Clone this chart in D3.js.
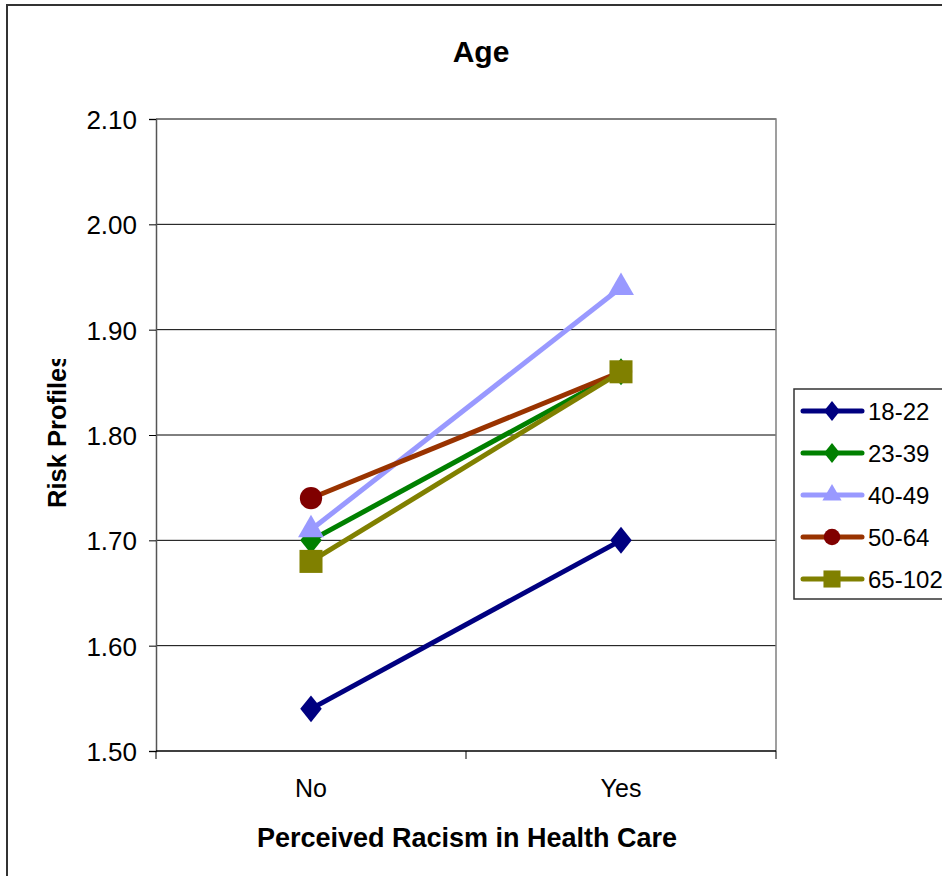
<!DOCTYPE html>
<html>
<head>
<meta charset="utf-8">
<script src="https://cdnjs.cloudflare.com/ajax/libs/d3/7.8.5/d3.min.js"></script>
<style>
  html, body { margin: 0; padding: 0; background: #fff; }
  svg { display: block; font-family: "Liberation Sans", Arial, sans-serif; }
</style>
</head>
<body>
<svg id="chart" width="942" height="876"></svg>
<script>
// Categories on the x axis
const categories = ["No", "Yes"];
// Age groups (series) and their mean risk profile scores
const seriesNames = ["18-22", "23-39", "40-49", "50-64", "65-102"];
const values1822 = [1.54, 1.70];
const values2339 = [1.70, 1.86];
const values4049 = [1.71, 1.94];
const values5064 = [1.74, 1.86];
const values65102 = [1.68, 1.86];
// Y axis ticks
const yTicks = [1.50, 1.60, 1.70, 1.80, 1.90, 2.00, 2.10];

// Diamond drawn as a slightly tall rhombus
const rhombus = {
  draw(ctx, size) {
    const h = Math.sqrt(size / 1.6);
    const w = h * 0.8;
    ctx.moveTo(0, -h); ctx.lineTo(w, 0); ctx.lineTo(0, h); ctx.lineTo(-w, 0); ctx.closePath();
  }
};

const seriesStyle = [
  { line: "#000080", fill: "#000080", symbol: rhombus, size: 290 },
  { line: "#008000", fill: "#008000", symbol: rhombus, size: 290 },
  { line: "#9999FF", fill: "#9999FF", symbol: d3.symbolTriangle, size: 290 },
  { line: "#993300", fill: "#800000", symbol: d3.symbolCircle, size: 390 },
  { line: "#808000", fill: "#808000", symbol: d3.symbolSquare, size: 530 }
];
const seriesValues = [values1822, values2339, values4049, values5064, values65102];
const series = seriesNames.map((name, i) => ({ name, values: seriesValues[i], style: seriesStyle[i] }));

const svg = d3.select("#chart");
const FONT = "'Liberation Sans', Arial, sans-serif";

// Outer chart frame (runs off the right and bottom edge)
svg.append("rect")
  .attr("x", 7).attr("y", 5).attr("width", 1000).attr("height", 1000)
  .attr("fill", "#fff").attr("stroke", "#333").attr("stroke-width", 2);

const plot = { left: 156, top: 119, right: 776, bottom: 751 };

const x = d3.scaleBand().domain(categories).range([plot.left, plot.right]);
const y = d3.scaleLinear().domain([1.5, 2.1]).range([plot.bottom, plot.top]);

// Horizontal gridlines
svg.append("g")
  .selectAll("line")
  .data(yTicks.slice(1))
  .join("line")
  .attr("x1", plot.left).attr("x2", plot.right)
  .attr("y1", d => y(d)).attr("y2", d => y(d))
  .attr("stroke", "#000").attr("stroke-width", 1);

// Plot area border (right side and top)
svg.append("path")
  .attr("d", `M${plot.left},${plot.top}H${plot.right}V${plot.bottom}`)
  .attr("fill", "none").attr("stroke", "#808080").attr("stroke-width", 1.5);

// Y axis
const yAxis = svg.append("g")
  .attr("transform", `translate(${plot.left},0)`)
  .call(d3.axisLeft(y).tickValues(yTicks).tickFormat(d3.format(".2f")).tickSize(7).tickPadding(12));
yAxis.attr("font-size", 26).attr("font-family", FONT);
yAxis.select(".domain").attr("stroke", "#555").attr("stroke-width", 1.5);
yAxis.selectAll(".tick line").attr("stroke", "#000");
yAxis.selectAll(".tick text").attr("fill", "#000").attr("dy", "0.36em");

// X axis with tick marks between categories
const xAxis = svg.append("g")
  .attr("transform", `translate(0,${plot.bottom})`);
xAxis.append("line")
  .attr("x1", plot.left).attr("x2", plot.right)
  .attr("stroke", "#000").attr("stroke-width", 1.5);
const boundaries = [plot.left].concat(categories.map(c => x(c) + x.bandwidth()));
xAxis.selectAll("line.tk")
  .data(boundaries)
  .join("line").attr("class", "tk")
  .attr("x1", d => d).attr("x2", d => d)
  .attr("y1", 0).attr("y2", 8)
  .attr("stroke", "#000");
xAxis.selectAll("text")
  .data(categories)
  .join("text")
  .attr("x", d => x(d) + x.bandwidth() / 2)
  .attr("y", 46)
  .attr("text-anchor", "middle")
  .attr("font-size", 25)
  .text(d => d);

// Lines and markers
const line = d3.line()
  .x((d, i) => x(categories[i]) + x.bandwidth() / 2)
  .y(d => y(d));

const sg = svg.append("g");
series.forEach(s => {
  sg.append("path")
    .datum(s.values)
    .attr("d", line)
    .attr("fill", "none")
    .attr("stroke", s.style.line)
    .attr("stroke-width", 5);
});
series.forEach(s => {
  sg.append("g").selectAll("path")
    .data(s.values)
    .join("path")
    .attr("transform", (d, i) => `translate(${x(categories[i]) + x.bandwidth() / 2},${y(d)})`)
    .attr("d", d3.symbol().type(s.style.symbol).size(s.style.size))
    .attr("fill", s.style.fill);
});

// Title
svg.append("text")
  .attr("x", 481).attr("y", 62)
  .attr("text-anchor", "middle")
  .attr("font-size", 30).attr("font-weight", "bold")
  .text("Age");

// X axis title
svg.append("text")
  .attr("x", 467).attr("y", 847)
  .attr("text-anchor", "middle")
  .attr("font-size", 27).attr("font-weight", "bold")
  .text("Perceived Racism in Health Care");

// Y axis title (clipped at its top by the frame)
svg.append("clipPath").attr("id", "ytitle-clip")
  .append("rect").attr("x", 0).attr("y", 359).attr("width", 120).attr("height", 300);
svg.append("g")
  .attr("clip-path", "url(#ytitle-clip)")
  .append("text")
  .attr("transform", "translate(66,508) rotate(-90)")
  .attr("text-anchor", "start")
  .attr("font-size", 25.5).attr("font-weight", "bold")
  .text("Risk Profiles");

// Legend
const legend = svg.append("g");
legend.append("rect")
  .attr("x", 794).attr("y", 389).attr("width", 200).attr("height", 210)
  .attr("fill", "#fff").attr("stroke", "#333").attr("stroke-width", 1.5);
const legendY = d3.scalePoint().domain(seriesNames).range([411, 579]);
const items = legend.selectAll("g.item")
  .data(series)
  .join("g").attr("class", "item")
  .attr("transform", d => `translate(0,${legendY(d.name)})`);
items.append("line")
  .attr("x1", 803).attr("x2", 862)
  .attr("stroke", d => d.style.line).attr("stroke-width", 5)
  .attr("stroke-linecap", "round");
items.append("path")
  .attr("transform", "translate(832,0)")
  .attr("d", d => d3.symbol().type(d.style.symbol).size(d.style.size * 0.55)())
  .attr("fill", d => d.style.fill);
items.append("text")
  .attr("x", 868).attr("y", 9)
  .attr("font-size", 24)
  .text(d => d.name);
</script>
</body>
</html>
